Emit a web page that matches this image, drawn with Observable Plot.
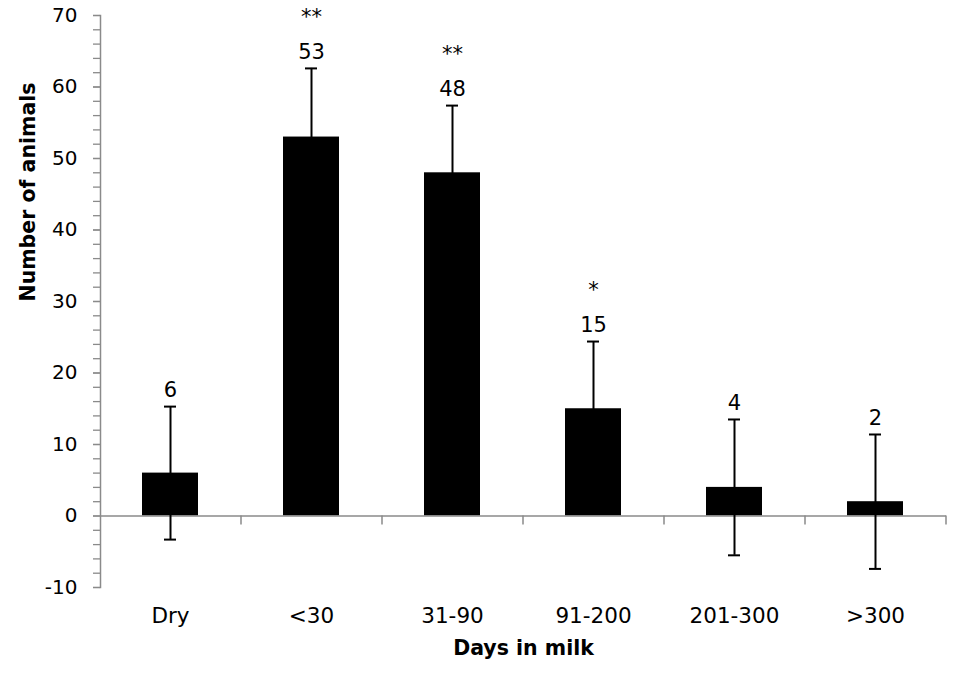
<!DOCTYPE html>
<html><head><meta charset="utf-8">
<script src="https://cdn.jsdelivr.net/npm/d3@7"></script>
<script src="https://cdn.jsdelivr.net/npm/@observablehq/plot@0.6"></script>
<style>body{margin:0;background:#fff;}</style>
</head><body><div id="chart"></div>
<script>
const categories = ["Dry", "<30", "31-90", "91-200", "201-300", ">300"];
const counts = [6, 53, 48, 15, 4, 2];
const errors = [9.3, 9.6, 9.4, 9.4, 9.5, 9.4];
const stars = ["", "**", "**", "*", "", ""];
const yTicks = [-10, 0, 10, 20, 30, 40, 50, 60, 70];
const yMinorTicks = [-10, -8, -6, -4, -2, 0, 2, 4, 6, 8, 10, 12, 14, 16, 18, 20, 22, 24, 26, 28, 30, 32, 34, 36, 38, 40, 42, 44, 46, 48, 50, 52, 54, 56, 58, 60, 62, 64, 66, 68, 70];
const xTitle = "Days in milk";
const yTitle = "Number of animals";

const data = categories.map((c, i) => ({cat: c, n: counts[i], err: errors[i], sig: stars[i]}));
const axisColor = "#8a8a8a";

const plot = Plot.plot({
  width: 957, height: 676,
  marginLeft: 100, marginRight: 11, marginTop: 15, marginBottom: 89,
  style: {fontFamily: "DejaVu Sans", background: "#fff", color: "#000", overflow: "visible"},
  x: {domain: categories, paddingInner: 0.6, paddingOuter: 0.3, label: null},
  y: {domain: [-10, 70], label: null},
  marks: [
    Plot.axisY({ticks: yMinorTicks, tickSize: 7, tickFormat: () => "", stroke: axisColor, strokeWidth: 1.3, label: null}),
    Plot.axisY({ticks: yTicks, tickSize: 7, tickPadding: 16, fontSize: 20, stroke: axisColor, strokeWidth: 1.3, fill: "#000", tickFormat: d => String(d), label: null}),
    Plot.axisX({tickSize: 0, tickPadding: 20, fontSize: 21.5, fill: "#000", label: null}),
    Plot.frame({anchor: "left", stroke: axisColor, strokeWidth: 1.5}),
    Plot.barY(data, {x: "cat", y: "n", fill: "#000"}),
    Plot.ruleY([0], {stroke: axisColor, strokeWidth: 1.5}),
    Plot.ruleX(categories, {x: d => d, y1: 0, y2: -1.25, dx: 70.5, stroke: axisColor, strokeWidth: 1.5}),
    Plot.ruleX(data, {x: "cat", y1: d => d.n - d.err, y2: d => d.n + d.err, stroke: "#000", strokeWidth: 2}),
    Plot.tickY(data, {x: "cat", y: d => d.n + d.err, insetLeft: 22, insetRight: 22, stroke: "#000", strokeWidth: 2}),
    Plot.tickY(data, {x: "cat", y: d => d.n - d.err, insetLeft: 22, insetRight: 22, stroke: "#000", strokeWidth: 2}),
    Plot.text(data, {x: "cat", y: d => d.n + d.err, text: d => String(d.n), dy: -16, fontSize: 21, fill: "#000"}),
    Plot.text(data.filter(d => d.sig), {x: "cat", y: d => d.n + d.err, text: "sig", dy: -51, fontSize: 21, fill: "#000"}),
    Plot.text([xTitle], {frameAnchor: "bottom", dy: 67, fontSize: 20.5, fontWeight: "bold", fill: "#000"}),
    Plot.text([yTitle], {frameAnchor: "left", dx: -72, rotate: -90, fontSize: 20.5, fontWeight: "bold", fill: "#000"})
  ]
});
document.getElementById("chart").appendChild(plot);
</script>
</body></html>
